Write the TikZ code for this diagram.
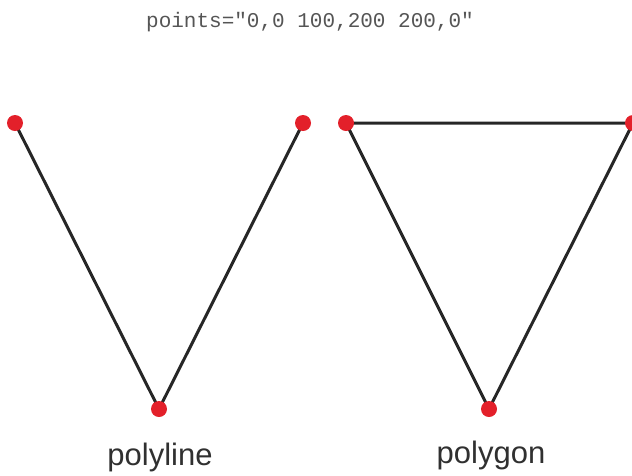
\documentclass[tikz,border=0pt]{standalone}
\usepackage{fontspec}
\setmainfont{Liberation Sans}
\newfontfamily\codefont{Liberation Mono}
\definecolor{dotred}{HTML}{E3202A}
\definecolor{linegray}{HTML}{262626}
\definecolor{codegray}{HTML}{555555}
\definecolor{labelgray}{HTML}{303030}
\begin{document}
\begin{tikzpicture}[x=1pt,y=-1pt,
  edge/.style={draw=linegray,line width=3pt,line join=round},
  pt/.style={circle,fill=dotred,inner sep=0pt,minimum size=16pt},
  lbl/.style={text=labelgray,font=\fontsize{31}{31}\selectfont,anchor=base,inner sep=0pt},
  code/.style={text=codegray,font=\codefont\fontsize{21}{21}\selectfont,anchor=base,inner sep=0pt}]
\useasboundingbox (0,0) rectangle (632,475);
\begin{scope}
\clip (0,0) rectangle (632,475);
% polyline
\coordinate (a1) at (15,123);
\coordinate (a2) at (159,409);
\coordinate (a3) at (303,123);
\draw[edge] (a1) -- (a2) -- (a3);
\node[pt] (p1) at (a1) {};
\node[pt] (p2) at (a2) {};
\node[pt] (p3) at (a3) {};
% polygon
\coordinate (b1) at (346,123);
\coordinate (b2) at (489,409);
\coordinate (b3) at (633,123);
\draw[edge] (b1) -- (b2) -- (b3) -- cycle;
\node[pt] (q1) at (b1) {};
\node[pt] (q2) at (b2) {};
\node[pt] (q3) at (b3) {};
\end{scope}
\node[code] (title) at (310,27) {points="0,0 100,200 200,0"};
\node[lbl] (l1) at (160,465) {polyline};
\node[lbl] (l2) at (491,463) {polygon};
\end{tikzpicture}
\end{document}
